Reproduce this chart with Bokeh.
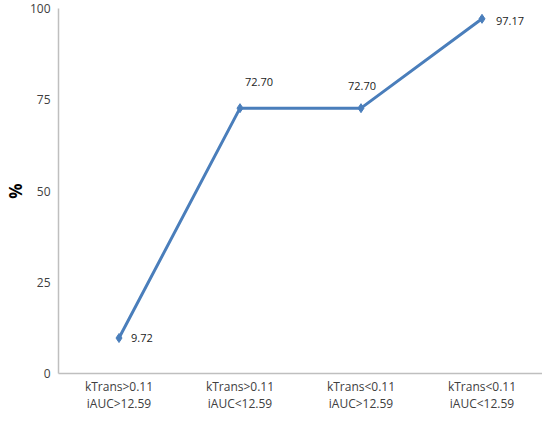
from bokeh.plotting import figure
from bokeh.models import ColumnDataSource, FixedTicker, FactorRange, Range1d
from bokeh.core.properties import value
from bokeh.embed import file_html
from bokeh.resources import INLINE

categories = ["kTrans>0.11\niAUC>12.59", "kTrans>0.11\niAUC<12.59",
              "kTrans<0.11\niAUC>12.59", "kTrans<0.11\niAUC<12.59"]
values = [9.72, 72.70, 72.70, 97.17]
value_labels = ["9.72", "72.70", "72.70", "97.17"]
y_ticks = [0, 25, 50, 75, 100]

# label placement (pixel offsets, style only)
label_dx = [12, 5, -13, 14]
label_dy = [0, -26, -22, 2]

FONT = "Open Sans"
TXT = "#404040"
BLUE = "#4A7EBB"

src = ColumnDataSource(dict(x=categories, y=values, lab=value_labels,
                            dx=label_dx, dy=label_dy))

p = figure(width=542, height=415, x_range=FactorRange(*categories, range_padding=0, factor_padding=0),
           y_range=Range1d(0, 100), output_backend="svg", toolbar_location=None,
           min_border_left=20, min_border_right=0, min_border_top=8, min_border_bottom=10)
p.outline_line_color = None
p.xgrid.visible = False
p.ygrid.visible = False

p.line("x", "y", source=src, line_color=BLUE, line_width=3)
p.scatter("x", "y", source=src, marker="diamond", size=9, fill_color=BLUE, line_color=BLUE)
p.text("x", "y", text="lab", source=src, x_offset="dx", y_offset="dy",
       text_font=value(FONT), text_font_size="11px", text_color="#222222",
       text_baseline="middle", text_align="left")

p.yaxis.ticker = FixedTicker(ticks=y_ticks)
p.yaxis.axis_label = "%"
p.yaxis.axis_label_text_font = FONT
p.yaxis.axis_label_text_font_style = "bold"
p.yaxis.axis_label_text_font_size = "17px"
p.yaxis.axis_label_text_color = "#000000"
p.yaxis.axis_label_standoff = 0
for ax in (p.xaxis, p.yaxis):
    ax.axis_line_color = "#BFBFBF"
    ax.axis_line_width = 1.5
    ax.major_tick_line_color = None
    ax.minor_tick_line_color = None
    ax.major_tick_out = 0
    ax.major_tick_in = 0
    ax.major_label_text_font = FONT
    ax.major_label_text_font_size = "12px"
    ax.major_label_text_color = TXT
p.yaxis.major_label_standoff = 8
p.xaxis.major_label_standoff = 4
p.xaxis.major_label_text_line_height = 1.05

open("out.html", "w").write(file_html(p, INLINE))
